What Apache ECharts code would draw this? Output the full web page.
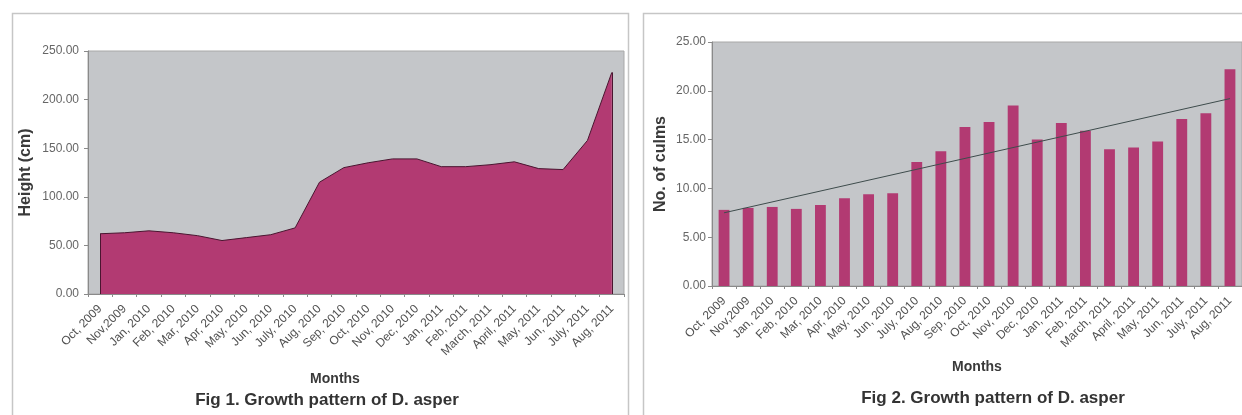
<!DOCTYPE html>
<html>
<head>
<meta charset="utf-8">
<script src="https://cdn.jsdelivr.net/npm/echarts@6/dist/echarts.min.js"></script>
<style>html,body{margin:0;padding:0;background:#fff}#c{width:1242px;height:415px}</style>
</head>
<body>
<div id="c"></div>
<script>
// ---- data ----
const months = ["Oct, 2009","Nov,2009","Jan, 2010","Feb, 2010","Mar, 2010","Apr, 2010","May, 2010","Jun, 2010","July, 2010","Aug, 2010","Sep, 2010","Oct, 2010","Nov, 2010","Dec, 2010","Jan, 2011","Feb, 2011","March, 2011","April, 2011","May, 2011","Jun, 2011","July, 2011","Aug, 2011"];
const heightCm = [62, 63, 65, 63, 60, 55, 58, 61, 68, 115, 130, 135, 139, 139, 131, 131, 133, 136, 129, 128, 158, 228];
const culms = [7.8, 8.0, 8.1, 7.9, 8.3, 9.0, 9.4, 9.5, 12.7, 13.8, 16.3, 16.8, 18.5, 15.0, 16.7, 15.9, 14.0, 14.2, 14.8, 17.1, 17.7, 22.2];
const culmsTrend = [7.5, 19.2]; // linear trendline at first and last month
const heightTicks = [0, 50, 100, 150, 200, 250];
const culmTicks = [0, 5, 10, 15, 20, 25];
const fig1Title = "Fig 1. Growth pattern of D. asper";
const fig2Title = "Fig 2. Growth pattern of D. asper";

const FONT = "Liberation Sans, Arial, sans-serif";
const MAG = "#b23a72";
const PLOTBG = "#c4c6c9";

const chart = echarts.init(document.getElementById('c'), null, {renderer: 'canvas'});

function xAxisCfg(gridIndex, nameGap, namePad) {
  return {
    gridIndex, type: 'category', data: months, boundaryGap: true,
    name: 'Months', nameLocation: 'middle', nameGap,
    nameTextStyle: {fontFamily: FONT, fontWeight: 'bold', fontSize: 14, color: '#3a3a3a', padding: namePad},
    axisLine: {show: true, lineStyle: {color: '#8a8a8a', width: 1}},
    axisTick: {show: true, length: 3, lineStyle: {color: '#8a8a8a'}},
    axisLabel: {rotate: 45, interval: 0, margin: 13, fontFamily: FONT, fontSize: 12, color: '#505050'},
    splitLine: {show: false}
  };
}
function yAxisCfg(gridIndex, ticks, name, nameGap, margin) {
  return {
    gridIndex, type: 'value', min: ticks[0], max: ticks[ticks.length - 1],
    interval: ticks[1] - ticks[0],
    name, nameLocation: 'middle', nameGap, nameRotate: 90,
    nameTextStyle: {fontFamily: FONT, fontWeight: 'bold', fontSize: 16, color: '#3a3a3a'},
    axisLine: {show: true, lineStyle: {color: '#8a8a8a', width: 1}},
    axisTick: {show: true, length: 4, lineStyle: {color: '#8a8a8a'}},
    axisLabel: {fontFamily: FONT, fontSize: 12, color: '#666', margin,
      formatter: v => v.toFixed(2)},
    splitLine: {show: false}
  };
}

const last = months.length - 1;

chart.setOption({
  animation: false,
  backgroundColor: '#fff',
  graphic: [
    {type: 'rect', shape: {x: 12.5, y: 13.5, width: 616, height: 420}, style: {fill: 'none', stroke: '#c6c6c6', lineWidth: 1.5}, z: -10},
    {type: 'rect', shape: {x: 643.5, y: 13.5, width: 620, height: 420}, style: {fill: 'none', stroke: '#c6c6c6', lineWidth: 1.5}, z: -10},
    {type: 'text', x: 327, y: 400, style: {text: fig1Title, align: 'center', verticalAlign: 'middle', font: 'bold 17px ' + FONT, fill: '#333'}},
    {type: 'text', x: 993, y: 398, style: {text: fig2Title, align: 'center', verticalAlign: 'middle', font: 'bold 17px ' + FONT, fill: '#333'}}
  ],
  grid: [
    {left: 88, top: 51, width: 536, height: 243, show: true, backgroundColor: PLOTBG, borderColor: '#a8a8a8', borderWidth: 1},
    {left: 712, top: 42, width: 535, height: 244, show: true, backgroundColor: PLOTBG, borderColor: '#a8a8a8', borderWidth: 1}
  ],
  xAxis: [xAxisCfg(0, 78, [0, 42, 0, 0]), xAxisCfg(1, 74, [0, 0, 0, 0])],
  yAxis: [yAxisCfg(0, heightTicks, 'Height (cm)', 54, 9), yAxisCfg(1, culmTicks, 'No. of culms', 43, 6)],
  series: [
    {
      type: 'line', xAxisIndex: 0, yAxisIndex: 0, data: heightCm,
      symbol: 'none', smooth: false,
      lineStyle: {color: '#4a1530', width: 1},
      areaStyle: {color: MAG, opacity: 1},
      markLine: {
        silent: true, symbol: 'none', label: {show: false},
        lineStyle: {color: '#4a1530', width: 1, type: 'solid'},
        data: [
          [{coord: [months[0], 0]}, {coord: [months[0], heightCm[0]]}],
          [{coord: [months[last], 0]}, {coord: [months[last], heightCm[last]]}]
        ]
      }
    },
    {
      type: 'bar', xAxisIndex: 1, yAxisIndex: 1, data: culms,
      barWidth: '45%',
      itemStyle: {color: MAG},
      markLine: {
        silent: true, symbol: 'none', label: {show: false},
        lineStyle: {color: '#3e4c4c', width: 1, type: 'solid'},
        data: [[{coord: [months[0], culmsTrend[0]]}, {coord: [months[last], culmsTrend[1]]}]]
      }
    }
  ]
});
</script>
</body>
</html>
